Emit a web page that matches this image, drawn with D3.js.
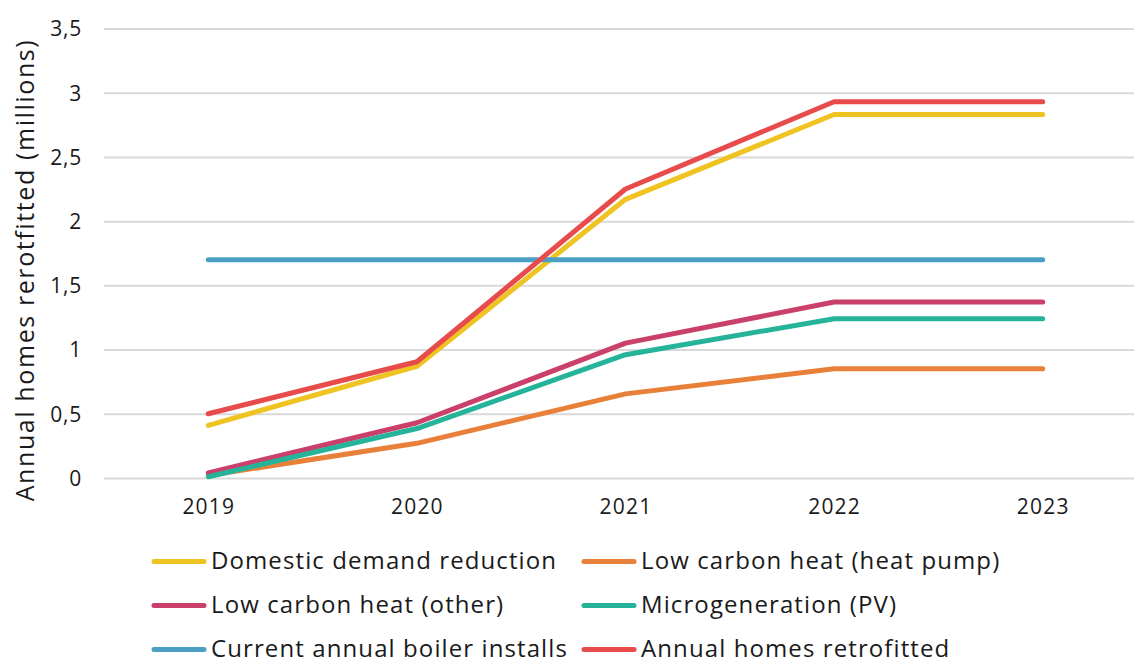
<!DOCTYPE html>
<html>
<head>
<meta charset="utf-8">
<script src="https://cdn.jsdelivr.net/npm/d3@7"></script>
<style>
  body { margin: 0; background: #fff; }
  text { font-family: "Open Sans", sans-serif; fill: #1a1a1a; }
</style>
</head>
<body>
<div id="main"></div>
<script>
var years = ['2019', '2020', '2021', '2022', '2023'];
var seriesNames = [
    'Domestic demand reduction',
    'Low carbon heat (heat pump)',
    'Low carbon heat (other)',
    'Microgeneration (PV)',
    'Current annual boiler installs',
    'Annual homes retrofitted'];
var domesticDemand = [0.41, 0.87, 2.17, 2.83, 2.83];
var heatPump = [0.02, 0.27, 0.655, 0.85, 0.85];
var heatOther = [0.04, 0.43, 1.05, 1.37, 1.37];
var microgen = [0.01, 0.385, 0.96, 1.24, 1.24];
var boilerInstalls = [1.7, 1.7, 1.7, 1.7, 1.7];
var homesRetrofitted = [0.5, 0.905, 2.25, 2.93, 2.93];
var yTicks = [0, 0.5, 1, 1.5, 2, 2.5, 3, 3.5];
var colors = ['#efc322', '#e8803a', '#c9416a', '#25b49a', '#4aa0c2', '#e84b4b'];

var allSeries = [domesticDemand, heatPump, heatOther, microgen, boilerInstalls, homesRetrofitted];

var width = 1134, height = 664;

var svg = d3.select('#main').append('svg')
    .attr('width', width)
    .attr('height', height);

var x = d3.scalePoint()
    .domain(years)
    .range([104, 1147])
    .padding(0.5);
var y = d3.scaleLinear()
    .domain([0, 3.5])
    .range([478, 28.5]);

var fmt = d3.formatLocale({decimal: ',', thousands: '.', grouping: [3], currency: ['', '']}).format('~g');

// grid + y labels
var yAxis = svg.append('g')
    .attr('class', 'y-axis')
    .attr('transform', 'translate(104,0)')
    .call(d3.axisRight(y)
        .tickValues(yTicks)
        .tickSize(width - 104)
        .tickFormat(fmt));
yAxis.select('.domain').remove();
yAxis.selectAll('.tick line')
    .attr('stroke', '#d9d9d9')
    .attr('stroke-width', 2);
yAxis.selectAll('.tick text')
    .attr('x', -22)
    .attr('text-anchor', 'end')
    .attr('dy', '0.35em')
    .style('font-size', '21px')
    .style('letter-spacing', '0.8px');

// x labels
var xAxis = svg.append('g')
    .attr('class', 'x-axis')
    .attr('transform', 'translate(0,478)')
    .call(d3.axisBottom(x).tickSize(0).tickPadding(21));
xAxis.select('.domain').remove();
xAxis.selectAll('.tick text')
    .attr('dy', '0.71em')
    .style('font-size', '21px')
    .style('letter-spacing', '1.2px');

svg.append('text')
    .attr('transform', 'translate(34,270) rotate(-90)')
    .attr('text-anchor', 'middle')
    .style('font-size', '25px')
    .style('letter-spacing', '1.6px')
    .text('Annual homes rerotfitted (millions)');

var line = d3.line()
    .x(function(d, i) { return x(years[i]); })
    .y(function(d) { return y(d); });

svg.append('g')
    .selectAll('path')
    .data(allSeries)
    .enter()
    .append('path')
    .attr('d', line)
    .attr('fill', 'none')
    .attr('stroke', function(d, i) { return colors[i]; })
    .attr('stroke-width', 5)
    .attr('stroke-linecap', 'round')
    .attr('stroke-linejoin', 'round');

// legend, two columns
var legend = svg.append('g').attr('class', 'legend');
var item = legend.selectAll('g')
    .data(seriesNames)
    .enter()
    .append('g')
    .attr('transform', function(d, i) {
        return 'translate(' + (i % 2 ? 582 : 152) + ',' + (561.5 + Math.floor(i / 2) * 44) + ')';
    });
item.append('line')
    .attr('x1', 2).attr('x2', 52)
    .attr('stroke', function(d, i) { return colors[i]; })
    .attr('stroke-width', 5)
    .attr('stroke-linecap', 'round');
item.append('text')
    .attr('x', 59)
    .attr('dy', '0.33em')
    .style('font-size', '24px')
    .style('letter-spacing', '1.1px')
    .text(function(d) { return d; });
</script>
</body>
</html>
